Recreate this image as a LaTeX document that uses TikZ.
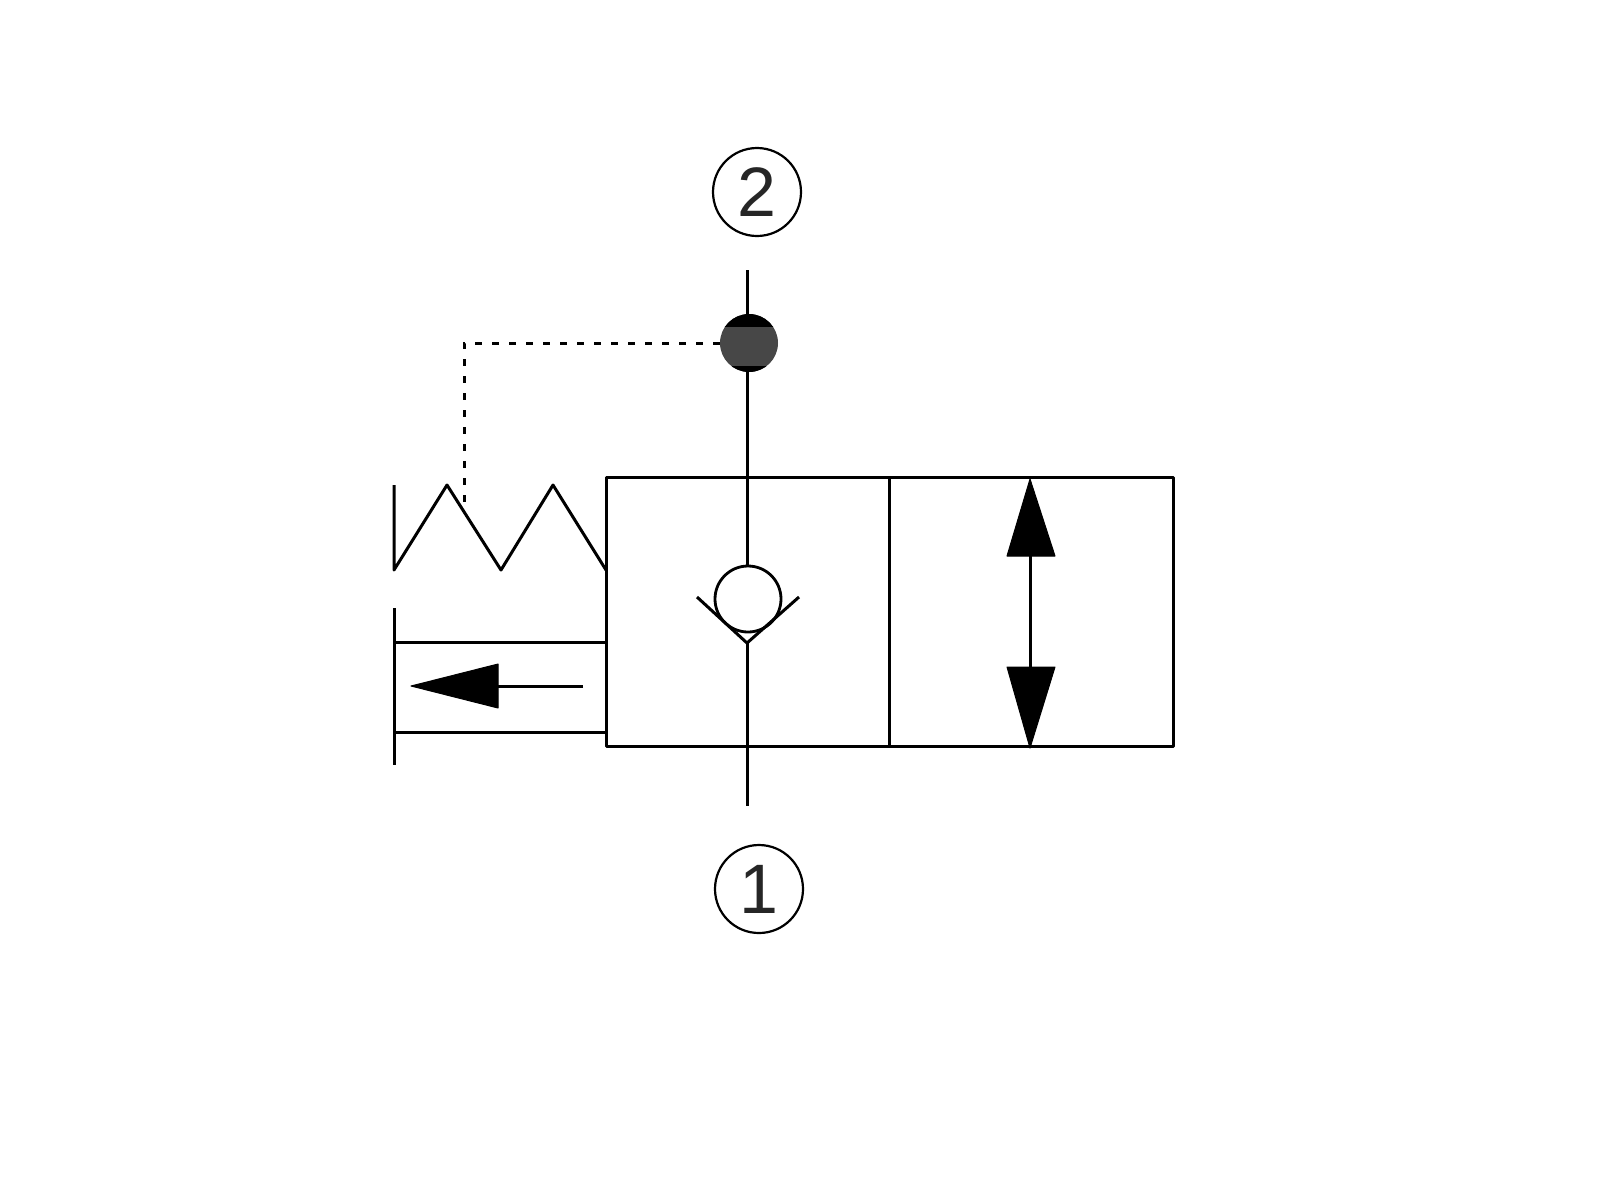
\documentclass[tikz,border=0pt]{standalone}
\usepackage{fontspec}
\setmainfont{Liberation Sans}
\usetikzlibrary{positioning, fit}

\tikzset{
  line/.style={line width=1.5pt, black},
  pilot/.style={line width=1.5pt, black, dash pattern=on 3.5pt off 5pt},
  port/.style={circle, draw, line width=1.1pt, minimum size=44pt, inner sep=0pt, text=black!85, font=\fontsize{35}{35}\selectfont},
  seat/.style={circle, draw, line width=1.4pt, minimum size=33pt, inner sep=0pt},
  tip/.style={fill=black, draw=black, line width=0.5pt, line join=round}
}

\begin{document}
\begin{tikzpicture}[x=0.5pt, y=-0.5pt]
    \useasboundingbox (0,0) rectangle (1600,1200);

    % Ports
    \node[port] (port2) at (757,192) {2};
    \node[port] (port1) at (759,889) {1};

    % Named points of the valve body
    \coordinate (boxtl) at (606,477);
    \coordinate (boxbr) at (1173,746);
    \coordinate (midtop) at (889,477);
    \coordinate (midbot) at (889,746);
    \coordinate (pipetop) at (747,270);
    \coordinate (pipebot) at (747,806);
    \coordinate (veetip) at (747,643);

    % Valve body with two positions
    \draw[line, line join=round] (boxtl) rectangle (boxbr);
    \draw[line] (midtop) -- (midbot);

    % Check valve
    \node[seat] (seatball) at (748,599) {};
    \coordinate (veeleft) at (697,597);
    \coordinate (veeright) at (799,597);
    \draw[line, line join=round] (veeleft) -- (veetip) -- (veeright);

    % Pipe between the ports
    \draw[line] (pipetop) -- (pipetop |- seatball.north);
    \draw[line] (veetip) -- (pipebot);

    % Pressure tap
    \node[circle, minimum size=29pt, inner sep=0pt, fill=black!72, path picture={
      \fill[black] (path picture bounding box.north west) rectangle ([yshift=-6.5pt]path picture bounding box.north east);
      \fill[black] (path picture bounding box.south west) rectangle ([yshift=3pt]path picture bounding box.south east);
    }] (tap) at (749,343) {};

    % Pilot line
    \coordinate (pilotcorner) at (464,343);
    \coordinate (pilotend) at (464,503);
    \draw[pilot] (tap.west) -- (pilotcorner) -- (pilotend);

    % Spring
    \coordinate (springstart) at (394,485);
    \draw[line, line join=round] (springstart) -- (394,570) -- (447,485) -- (501,570) -- (553,485) -- (606,570);

    % Actuator
    \coordinate (actop) at (394,608);
    \coordinate (acbot) at (394,765);
    \draw[line] (actop) -- (acbot);
    \foreach \ypos in {642,732} {
      \draw[line] (394,\ypos) -- (606,\ypos);
    }
    \coordinate (actip) at (411,686);
    \coordinate (actail) at (583,686);
    \draw[line] (actail) -- (490,686);
    \fill[tip] (actip) -- (498,664) -- (498,708) -- cycle;

    % Double arrow in the second position
    \coordinate (dbltop) at (1030,479);
    \coordinate (dblbot) at (1030,748);
    \draw[line] (1030,550) -- (1030,672);
    \fill[tip] (dbltop) -- (1007,556) -- (1055,556) -- cycle;
    \fill[tip] (dblbot) -- (1007,667) -- (1055,667) -- cycle;
\end{tikzpicture}
\end{document}
